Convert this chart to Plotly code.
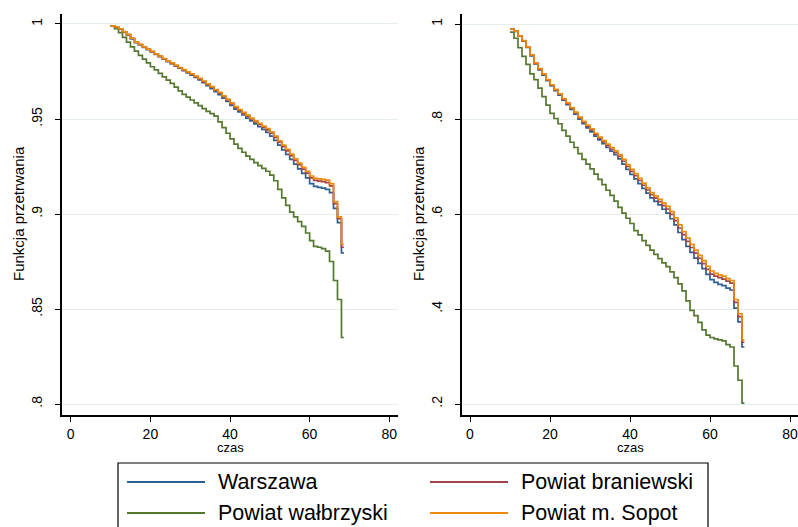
import plotly.graph_objects as go

# ---------------- data ----------------
times = list(range(10, 69))          # 10 .. 68
end_time = 68.6

series_names = ["Warszawa", "Powiat braniewski", "Powiat wałbrzyski", "Powiat m. Sopot"]
series_colors = ["#2d5f92", "#a0434b", "#55782f", "#ec8a0c"]

# Left panel (survival, close to 1)
left_warszawa = [.9990, .9984, .9973, .9958, .9942, .9922, .9902, .9890, .9877, .9865,
                 .9853, .9840, .9828, .9815, .9802, .9791, .9779, .9767, .9755, .9743,
                 .9731, .9719, .9706, .9691, .9676, .9660, .9644, .9628, .9610, .9592,
                 .9572, .9552, .9537, .9521, .9505, .9490, .9474, .9460, .9445, .9430,
                 .9410, .9388, .9362, .9338, .9314, .9288, .9262, .9238, .9214, .9190,
                 .9160, .9145, .9140, .9136, .9130, .9112, .9030, .8955, .8795]
left_braniewski = [.9990, .9985, .9974, .9959, .9944, .9924, .9904, .9892, .9879, .9867,
                   .9855, .9842, .9830, .9817, .9804, .9793, .9781, .9769, .9758, .9746,
                   .9735, .9723, .9711, .9697, .9682, .9667, .9652, .9636, .9618, .9600,
                   .9580, .9560, .9545, .9530, .9515, .9500, .9485, .9471, .9457, .9443,
                   .9425, .9403, .9378, .9355, .9332, .9307, .9282, .9260, .9236, .9215,
                   .9190, .9177, .9173, .9170, .9165, .9148, .9055, .8975, .8825]
left_walbrzyski = [.9990, .9975, .9955, .9930, .9905, .9880, .9857, .9835, .9815, .9795,
                   .9775, .9758, .9740, .9722, .9705, .9687, .9668, .9648, .9630, .9615,
                   .9600, .9585, .9570, .9555, .9540, .9528, .9515, .9485, .9455, .9425,
                   .9395, .9368, .9345, .9325, .9305, .9288, .9270, .9255, .9240, .9225,
                   .9205, .9175, .9130, .9085, .9045, .9010, .8985, .8960, .8935, .8900,
                   .8860, .8830, .8825, .8818, .8805, .8750, .8650, .8550, .8350]
left_sopot = [.9990, .9985, .9975, .9960, .9945, .9925, .9905, .9893, .9880, .9868,
              .9856, .9843, .9831, .9818, .9805, .9795, .9783, .9771, .9760, .9748,
              .9737, .9726, .9714, .9700, .9685, .9670, .9655, .9640, .9622, .9605,
              .9585, .9565, .9550, .9535, .9520, .9505, .9490, .9477, .9463, .9450,
              .9432, .9410, .9385, .9362, .9340, .9315, .9290, .9268, .9245, .9225,
              .9200, .9188, .9185, .9182, .9178, .9160, .9065, .8985, .8840]

# Right panel
right_warszawa = [.9890, .9845, .9745, .9640, .9505, .9330, .9160, .9035, .8925, .8805,
                  .8695, .8595, .8500, .8395, .8300, .8200, .8100, .7995, .7900, .7815,
                  .7730, .7640, .7560, .7480, .7400, .7325, .7250, .7160, .7050, .6940,
                  .6835, .6740, .6640, .6540, .6440, .6340, .6265, .6190, .6100, .6020,
                  .5900, .5770, .5610, .5460, .5320, .5190, .5070, .4960, .4850, .4730,
                  .4620, .4560, .4520, .4490, .4440, .4400, .4020, .3730, .3200]
right_braniewski = [.9890, .9848, .9748, .9646, .9514, .9342, .9172, .9050, .8940, .8820,
                    .8710, .8612, .8517, .8415, .8323, .8223, .8126, .8022, .7930, .7847,
                    .7765, .7675, .7595, .7518, .7440, .7368, .7295, .7212, .7110, .7000,
                    .6898, .6805, .6705, .6605, .6505, .6405, .6333, .6260, .6178, .6105,
                    .5990, .5860, .5705, .5565, .5425, .5295, .5175, .5065, .4955, .4835,
                    .4735, .4690, .4660, .4630, .4585, .4545, .4140, .3840, .3300]
right_walbrzyski = [.9830, .9700, .9500, .9320, .9150, .8950, .8830, .8650, .8470, .8290,
                    .8120, .8010, .7900, .7760, .7640, .7510, .7400, .7270, .7150, .7050,
                    .6950, .6840, .6730, .6620, .6500, .6390, .6270, .6140, .6020, .5910,
                    .5800, .5650, .5560, .5440, .5340, .5240, .5150, .5060, .4970, .4890,
                    .4780, .4660, .4530, .4380, .4170, .3970, .3860, .3720, .3560, .3450,
                    .3400, .3370, .3350, .3330, .3250, .3200, .2800, .2500, .2020]
right_sopot = [.9890, .9850, .9750, .9650, .9520, .9350, .9180, .9060, .8950, .8830,
               .8720, .8625, .8530, .8430, .8340, .8240, .8145, .8040, .7950, .7870,
               .7790, .7700, .7620, .7545, .7470, .7400, .7330, .7250, .7150, .7040,
               .6940, .6850, .6750, .6650, .6550, .6450, .6380, .6310, .6230, .6160,
               .6050, .5920, .5770, .5630, .5490, .5360, .5240, .5130, .5020, .4900,
               .4800, .4750, .4720, .4690, .4640, .4600, .4200, .3900, .3350]

x_tickvals = [0, 20, 40, 60, 80]
left_tickvals = [0.8, 0.85, 0.9, 0.95, 1.0]
left_ticktext = [".8", ".85", ".9", ".95", "1"]
right_tickvals = [0.2, 0.4, 0.6, 0.8, 1.0]
right_ticktext = [".2", ".4", ".6", ".8", "1"]

y_title = "Funkcja przetrwania"
x_title = "czas"

# ---------------- figure ----------------
W, H = 798, 527
FONT = "Liberation Sans, Arial, sans-serif"


def px_x(p):
    return p / W


def px_y(p):
    return 1 - p / H


fig = go.Figure()

left_data = [left_warszawa, left_braniewski, left_walbrzyski, left_sopot]
right_data = [right_warszawa, right_braniewski, right_walbrzyski, right_sopot]

for name, col, ys in zip(series_names, series_colors, left_data):
    fig.add_trace(go.Scatter(x=times + [end_time], y=ys + [ys[-1]], mode="lines",
                             line=dict(color=col, width=1.7, shape="hv"),
                             name=name, showlegend=False, xaxis="x", yaxis="y"))
for name, col, ys in zip(series_names, series_colors, right_data):
    fig.add_trace(go.Scatter(x=times + [end_time], y=ys + [ys[-1]], mode="lines",
                             line=dict(color=col, width=1.7, shape="hv"),
                             name=name, showlegend=False, xaxis="x2", yaxis="y2"))

y_dom = [px_y(415), px_y(14)]
common_x = dict(tickvals=x_tickvals, ticks="outside", ticklen=5,
                tickcolor="black", tickwidth=1, showline=True, linecolor="black",
                linewidth=1.5, showgrid=False, zeroline=False,
                ticklabeloverflow="allow",
                tickfont=dict(family=FONT, size=14, color="black"))
common_y = dict(ticks="outside", ticklen=5, tickcolor="black", tickwidth=1,
                showline=True, linecolor="black", linewidth=1.5, showgrid=True,
                gridcolor="#e4edf0", gridwidth=1, zeroline=False, tickangle=-90,
                ticklabelstandoff=8,
                tickfont=dict(family=FONT, size=14, color="black"))

fig.update_layout(
    width=W, height=H,
    margin=dict(l=0, r=0, t=0, b=0),
    paper_bgcolor="white", plot_bgcolor="white",
    showlegend=False,
    xaxis=dict(domain=[px_x(62), px_x(398)], anchor="y", range=[-2.2, 82.2], **common_x),
    yaxis=dict(domain=y_dom, anchor="x", range=[0.79421, 1.00526],
               tickvals=left_tickvals, ticktext=left_ticktext, **common_y),
    xaxis2=dict(domain=[px_x(462), px_x(798)], anchor="y2", range=[-2.0, 82.0], **common_x),
    yaxis2=dict(domain=y_dom, anchor="x2", range=[0.17684, 1.02105],
                tickvals=right_tickvals, ticktext=right_ticktext, **common_y),
)

annotations = []
shapes = []
# axis titles
for cx, xc in [(19, 230), (419, 630)]:
    annotations.append(dict(text=y_title, x=px_x(cx), y=px_y(214), xref="paper", yref="paper",
                            showarrow=False, textangle=-90, xanchor="center", yanchor="middle",
                            font=dict(family=FONT, size=15, color="black")))
    annotations.append(dict(text=x_title, x=px_x(xc), y=px_y(447), xref="paper", yref="paper",
                            showarrow=False, xanchor="center", yanchor="middle",
                            font=dict(family=FONT, size=13, color="black")))

# legend drawn manually (Stata style box)
shapes.append(dict(type="rect", xref="paper", yref="paper",
                   x0=px_x(118), x1=px_x(708), y0=px_y(545), y1=px_y(463),
                   line=dict(color="black", width=1.2), fillcolor="rgba(0,0,0,0)"))
leg_pos = [(127, 482), (430, 482), (127, 513), (430, 513)]
leg_order = [0, 1, 2, 3]
for (lx, ly), idx in zip(leg_pos, leg_order):
    shapes.append(dict(type="line", xref="paper", yref="paper",
                       x0=px_x(lx), x1=px_x(lx + 78), y0=px_y(ly), y1=px_y(ly),
                       line=dict(color=series_colors[idx], width=2)))
    annotations.append(dict(text=series_names[idx], x=px_x(lx + 89), y=px_y(ly),
                            xref="paper", yref="paper", showarrow=False,
                            xanchor="left", yanchor="middle",
                            font=dict(family=FONT, size=21.5, color="black")))

fig.update_layout(annotations=annotations, shapes=shapes)

fig.write_html("out.html",
               config={"displayModeBar": False},
               post_script="document.body.style.margin='0';document.body.style.overflow='hidden';")
